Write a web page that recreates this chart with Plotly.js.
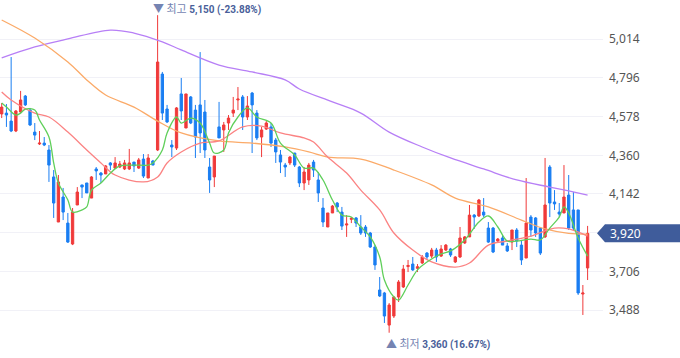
<!DOCTYPE html>
<html>
<head>
<meta charset="utf-8">
<script src="https://cdn.plot.ly/plotly-3.0.1.min.js"></script>
<style>html,body{margin:0;padding:0;background:#fff;}#chart{width:680px;height:358px;}</style>
</head>
<body>
<div id="chart"></div>
<script>
// Daily candles (oldest -> newest)
const openP = [4593,4598,4553,4497,4604,4694,4615,4491,4424,4429,4390,4238,3984,4125,3978,3860,4080,4193,4204,4119,4283,4260,4255,4317,4288,4294,4283,4283,4322,4288,4339,4232,4328,4390,4818,4621,4418,4401,4706,4514,4689,
4615,4644,4604,4294,4238,4520,4503,4542,4598,4672,4689,4576,4711,4598,4463,4508,4520,4446,4362,4305,4317,4373,4294,4204,4221,4322,4221,4063,3956,4035,4091,4040,3967,3999,4007,3956,3956,3922,3843,3601,3584,3403,3454,
3561,3618,3733,3747,3723,3753,3809,3792,3826,3792,3826,3832,3759,3787,3866,3900,4023,4018,4040,3950,3950,3877,3894,3849,3871,3939,3854,3781,4012,4007,3950,3900,4294,4097,4040,4035,4136,4052,4052,3578,3725];
const highP = [4655,4649,4914,4615,4723,4700,4627,4542,4497,4463,4418,4277,4249,4176,4035,4063,4181,4193,4204,4243,4294,4266,4305,4322,4350,4328,4334,4396,4322,4345,4367,4367,4334,5150,4830,4644,4446,4632,4796,4706,4694,
4644,4942,4672,4345,4356,4661,4548,4587,4689,4745,4700,4694,4717,4615,4520,4553,4542,4458,4390,4317,4356,4373,4300,4294,4317,4334,4266,4119,4035,4080,4097,4069,4023,4012,4012,4023,3967,3928,3854,3674,3590,3527,3567,
3657,3742,3770,3787,3747,3798,3815,3838,3838,3854,3860,3838,3792,3956,3905,4080,4029,4114,4119,3984,3956,3894,3911,3866,3939,3950,3883,4232,4023,4012,3956,4345,4305,4164,4091,4305,4249,4153,4052,3629,3962];
const lowP = [4570,4520,4491,4491,4598,4638,4525,4446,4418,4412,4210,4007,3984,3995,3866,3854,4080,4119,4148,4119,4221,4204,4255,4277,4283,4288,4277,4277,4266,4283,4232,4232,4305,4384,4559,4542,4350,4390,4559,4514,4536,
4345,4373,4345,4148,4181,4458,4379,4503,4576,4615,4503,4559,4373,4446,4350,4503,4407,4317,4260,4238,4305,4294,4181,4164,4193,4238,4097,3956,3956,4035,4040,3939,3900,3978,3956,3911,3900,3838,3714,3561,3415,3360,3443,
3533,3612,3702,3708,3702,3747,3770,3781,3759,3787,3821,3787,3753,3781,3860,3900,3945,4012,4012,3866,3809,3871,3854,3815,3826,3843,3742,3781,3900,3900,3798,3894,4012,4052,4012,4035,3939,3939,3573,3460,3657];
const closeP = [4632,4587,4497,4610,4672,4644,4531,4474,4429,4418,4305,4091,4210,4040,3871,4040,4153,4181,4148,4238,4272,4249,4300,4305,4317,4311,4317,4317,4300,4334,4243,4345,4305,4886,4598,4548,4407,4627,4610,4706,4542,
4463,4486,4390,4221,4356,4458,4531,4570,4615,4677,4576,4638,4644,4458,4503,4542,4429,4379,4322,4294,4350,4305,4204,4266,4305,4277,4148,3984,4035,4074,4069,3961,3973,4005,3978,3922,3922,3843,3742,3567,3454,3516,3561,
3646,3719,3739,3714,3732,3787,3787,3826,3787,3832,3854,3798,3787,3894,3900,4023,4012,4108,4023,3871,3815,3888,3854,3821,3939,3877,3770,3978,3939,3922,3809,4080,4091,4086,4029,4125,3950,3950,3584,3584,3920];
const dayIdx = openP.map((_, i) => i);

// Moving-average lines, read at sample days
const ma5X = [0,1,3,4,5,7,8,10,11,12,14,15,17,18,19,21,23,25,28,31,32,34,35,37,38,40,42,44,45,47,48,50,52,54,57,59,62,64,66,68,70,72,74,76,78,80,81,83,84,86,88,90,93,95,98,101,103,105,107,109,112,114,116,118,119,120,122,124];
const ma5Y = [4655,4632,4587,4598,4621,4615,4559,4463,4317,4204,4108,4040,4052,4069,4164,4204,4260,4300,4305,4305,4317,4390,4486,4576,4542,4570,4542,4429,4373,4390,4486,4576,4627,4576,4542,4429,4362,4288,4288,4221,4108,4023,4012,3956,3900,3787,3657,3561,3544,3629,3714,3759,3804,3821,3883,3984,4018,3956,3877,3877,3888,3883,3950,4012,4069,4035,3894,3792];
const ma20X = [0,2,7,10,14,18,21,24,30,33,35,38,42,46,51,55,59,64,66,69,73,76,80,83,87,91,96,99,103,107,112,117,120,124];
const ma20Y = [4717,4672,4598,4576,4491,4390,4317,4249,4210,4238,4317,4379,4429,4441,4520,4525,4486,4458,4435,4350,4260,4164,4052,3922,3826,3759,3730,3753,3854,3877,3905,3950,3945,3905];
const ma60X = [0,7,14,18,22,28,33,38,46,53,60,65,69,76,83,91,96,103,110,115,120,124];
const ma60Y = [5123,5021,4886,4785,4700,4632,4553,4486,4441,4429,4407,4379,4350,4339,4277,4193,4119,4069,3995,3945,3920,3915];
const ma120X = [0,7,14,23,28,34,38,46,53,60,63,70,76,82,89,95,102,109,116,120,124];
const ma120Y = [4909,4971,5016,5066,5049,4999,4954,4869,4830,4785,4734,4661,4598,4491,4407,4345,4283,4221,4181,4159,4136];

const yTicks = [3488,3706,3924,4142,4360,4578,4796,5014];
const yTickText = ['3,488','3,706','','4,142','4,360','4,578','4,796','5,014'];
const lastClose = closeP[closeP.length - 1];
const hiVal = 5150, hiIdx = 33, hiText = '5,150 (-23.88%)';
const loVal = 3360, loIdx = 82, loText = '3,360 (16.67%)';

const traces = [
  {type:'candlestick', x: dayIdx, open: openP, high: highP, low: lowP, close: closeP,
   increasing:{line:{color:'#f03a3a', width:1}, fillcolor:'#f03a3a'},
   decreasing:{line:{color:'#1a7ef2', width:1}, fillcolor:'#1a7ef2'},
   whiskerwidth:0, hoverinfo:'skip', showlegend:false},
  {type:'scatter', mode:'lines', x: ma120X, y: ma120Y, line:{color:'#b77ff6', width:1.3, shape:'spline'}, hoverinfo:'skip', showlegend:false},
  {type:'scatter', mode:'lines', x: ma60X, y: ma60Y, line:{color:'#fbaa68', width:1.3, shape:'spline'}, hoverinfo:'skip', showlegend:false},
  {type:'scatter', mode:'lines', x: ma20X, y: ma20Y, line:{color:'#fb8383', width:1.3, shape:'spline'}, hoverinfo:'skip', showlegend:false},
  {type:'scatter', mode:'lines', x: ma5X, y: ma5Y, line:{color:'#5fcf5a', width:1.3, shape:'spline'}, hoverinfo:'skip', showlegend:false}
];

const numFont = 'font-family:Roboto;font-weight:bold;font-size:10px;color:#4a5f9a';
const labFont = 'color:#7584b2';

const layout = {
  width: 680, height: 358,
  margin: {l:0, r:77, t:0, b:0},
  paper_bgcolor:'#ffffff', plot_bgcolor:'#ffffff',
  showlegend:false,
  xaxis: {range:[-0.36, 127.26], showgrid:false, zeroline:false, showticklabels:false, ticks:'', rangeslider:{visible:false}, fixedrange:true},
  yaxis: {side:'right', range:[3217.5, 5235.5], tickvals: yTicks, ticktext: yTickText, showgrid:true, gridcolor:'#f1f1f7', gridwidth:1,
          zeroline:false, ticks:'', ticklabelstandoff:5, tickfont:{family:'Noto Sans, Open Sans, sans-serif', size:12, color:'#555'}},
  shapes: [
    {type:'path', xref:'paper', yref:'y', xsizemode:'pixel', ysizemode:'pixel', xanchor:1, yanchor:lastClose,
     path:'M -6 0 L 2 -9 L 77 -9 L 77 9 L 2 9 Z', fillcolor:'#3f5c9b', line:{width:0}}
  ],
  annotations: [
    {xref:'paper', yref:'y', x:1.0083, y:lastClose, xanchor:'left', yanchor:'middle', text: lastClose.toLocaleString('en-US'),
     showarrow:false, font:{family:'Noto Sans, Open Sans, sans-serif', size:12, color:'#ffffff'}},
    {xref:'x', yref:'y', x:hiIdx, y:hiVal, xanchor:'left', yanchor:'middle', xshift:-7, yshift:7, showarrow:false,
     text:'<span style="' + labFont + '">▼ 최고</span> <span style="' + numFont + '">' + hiText + '</span>',
     font:{family:'Noto Sans CJK KR, Noto Sans, sans-serif', size:11, color:'#4a5f9a'}},
    {xref:'x', yref:'y', x:loIdx, y:loVal, xanchor:'left', yanchor:'middle', xshift:-5, yshift:-10, showarrow:false,
     text:'<span style="' + labFont + '">▲ 최저</span> <span style="' + numFont + '">' + loText + '</span>',
     font:{family:'Noto Sans CJK KR, Noto Sans, sans-serif', size:11, color:'#4a5f9a'}}
  ]
};

Plotly.newPlot('chart', traces, layout, {staticPlot:true, displayModeBar:false});
</script>
</body>
</html>
